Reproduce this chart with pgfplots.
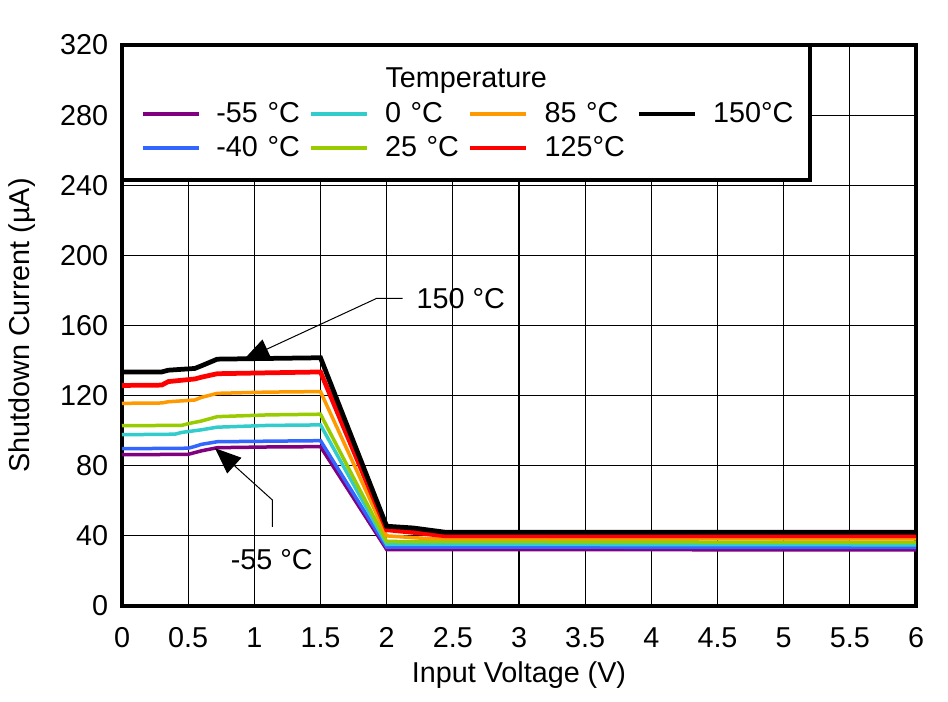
\documentclass[border=0pt]{standalone}
\usepackage{pgfplots}
\pgfplotsset{compat=1.18}
\usepackage{fontspec}
\setmainfont{Liberation Sans}
\usetikzlibrary{arrows.meta}
\definecolor{cpurple}{RGB}{128,0,128}
\definecolor{cblue}{RGB}{51,102,255}
\definecolor{ccyan}{RGB}{51,204,204}
\definecolor{cgreen}{RGB}{153,204,0}
\definecolor{corange}{RGB}{255,153,0}
\definecolor{cred}{RGB}{255,0,0}
\begin{document}
\begin{tikzpicture}[font=\fontsize{11.5}{13.8}\selectfont]
\begin{axis}[
  name=ax,
  scale only axis,
  width=317.6pt, height=224.4pt,
  xmin=0, xmax=6, ymin=0, ymax=320,
  xtick={0,0.5,...,6}, ytick={0,40,...,320},
  xticklabels={0,0.5,1,1.5,2,2.5,3,3.5,4,4.5,5,5.5,6},
  /pgf/number format/assume math mode=true,
  grid=major,
  major grid style={black, line width=0.45pt},
  major tick length=0pt,
  axis line style={line width=1.6pt},
  xticklabel style={yshift=-5pt},
  yticklabel style={xshift=-2pt},
  xlabel={Input Voltage (V)},
  ylabel={Shutdown Current (µA)},
  xlabel style={at={(axis description cs:0.5,-0.123)}, anchor=center},
  ylabel style={at={(axis description cs:-0.126,0.5)}, anchor=center},
  legend columns=4,
  legend image code/.code={\draw[#1] (0pt,0pt) -- (22.4pt,0pt);},
  legend style={at={(axis description cs:0.0235,0.900)}, anchor=north west,
    draw=none, fill=none, row sep=3.1pt, inner sep=0pt, outer sep=0pt,
    /tikz/every odd column/.append style={column sep=6.4pt},
    nodes={inner sep=0pt, text height=8.5pt, text depth=2pt, text width=37.2pt, align=left}},
]
\draw[line width=1.6pt, fill=white] (axis description cs:0,1) rectangle (axis description cs:0.8665,0.7594);
\node[anchor=base] at (axis description cs:0.4336,0.9239) {Temperature};

\addlegendimage{cpurple, line width=1.5pt}\addlegendentry[text width=37.2pt]{-55 °C}
\addlegendimage{ccyan, line width=1.5pt}\addlegendentry[text width=33.2pt]{0 °C}
\addlegendimage{corange, line width=1.5pt}\addlegendentry[text width=36.8pt]{85 °C}
\addlegendimage{black, line width=1.8pt}\addlegendentry[text width=33pt]{150°C}
\addlegendimage{cblue, line width=1.5pt}\addlegendentry[text width=37.2pt]{-40 °C}
\addlegendimage{cgreen, line width=1.5pt}\addlegendentry[text width=33.2pt]{25 °C}
\addlegendimage{cred, line width=1.8pt}\addlegendentry[text width=36.8pt]{125°C}

\addplot[cpurple, line width=1.4pt, forget plot] coordinates {(0,86.3)(0.5,86.5)(0.55,87.5)(0.6,88.5)(0.72,90.3)(1.1,90.7)(1.5,90.9)(2,32.2)(6,32.0)};
\addplot[cblue, line width=1.4pt, forget plot] coordinates {(0,89.7)(0.5,90)(0.55,91)(0.6,92.2)(0.72,93.7)(1.1,94)(1.5,94.3)(2,33.6)(6,33.4)};
\addplot[ccyan, line width=1.4pt, forget plot] coordinates {(0,97.7)(0.4,98)(0.45,99)(0.6,100.5)(0.72,102)(1.1,103)(1.5,103.3)(2,35.2)(6,34.9)};
\addplot[cgreen, line width=1.4pt, forget plot] coordinates {(0,102.9)(0.45,103)(0.5,104)(0.6,105.5)(0.72,108)(1.1,109)(1.5,109.4)(2,36.8)(6,36.3)};
\addplot[corange, line width=1.4pt, forget plot] coordinates {(0,115.6)(0.3,115.8)(0.35,116.5)(0.55,117.5)(0.6,119)(0.72,121.3)(1.1,122)(1.5,122.3)(2,40)(2.3,38.5)(6,38.3)};
\addplot[cred, line width=1.9pt, forget plot] coordinates {(0,125.8)(0.3,126)(0.35,128)(0.55,129.5)(0.6,130.5)(0.72,132.5)(1.1,133)(1.5,133.5)(2,43.5)(2.2,42)(2.45,40)(6,40)};
\addplot[black, line width=1.9pt, forget plot] coordinates {(0,133.5)(0.3,133.5)(0.35,134.5)(0.55,135.5)(0.6,137)(0.72,140.8)(1.1,141.2)(1.5,141.6)(2,45.5)(2.2,44.5)(2.45,42)(6,42)};

\draw[line width=0.4pt, -{Triangle[length=10.4pt,width=8.4pt]}] (axis cs:2.121,175.5) -- (axis cs:1.925,175.5) -- (axis cs:0.917,140.3);
\node at (axis cs:2.56,175.6) {150 °C};
\draw[line width=0.4pt, -{Triangle[length=10.4pt,width=8.4pt]}] (axis cs:1.136,45.2) -- (axis cs:1.136,60.5) -- (axis cs:0.703,90.0);
\node at (axis cs:1.131,26.2) {-55 °C};
\end{axis}
\pgfresetboundingbox
\path (ax.south west) ++(-48.8pt,-38pt) coordinate (bbsw);
\path (ax.north east) ++(12.8pt,18pt) coordinate (bbne);
\path (bbsw) rectangle (bbne);
\end{tikzpicture}
\end{document}
